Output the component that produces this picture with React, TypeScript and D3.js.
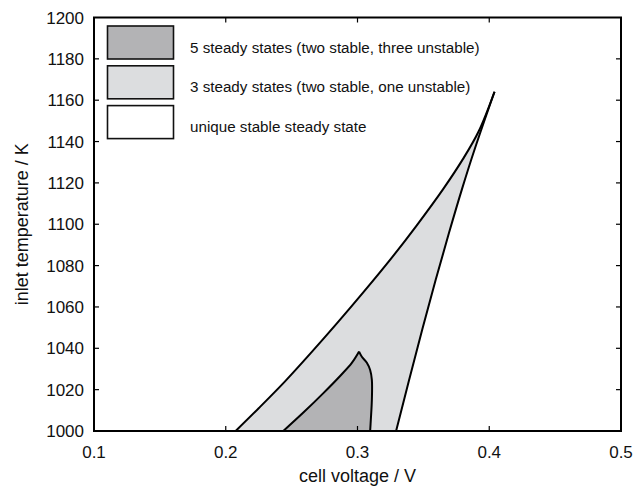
import React from "react";
import * as d3 from "d3";

// Outer boundary of the 3-steady-state region (cell voltage V, inlet temperature K)
const outerLeftV = [0.2075, 0.225, 0.245, 0.265, 0.285, 0.305, 0.325, 0.345, 0.365, 0.38, 0.392, 0.404];
const outerLeftT = [1000, 1011, 1024, 1038, 1052.5, 1067.5, 1083, 1099.5, 1117, 1131.5, 1145, 1164.1];
const outerRightV = [0.404, 0.3893, 0.3793, 0.3693, 0.3593, 0.3493, 0.3393, 0.3293];
const outerRightT = [1164.1, 1137, 1117, 1095.5, 1073, 1049.5, 1025, 1000];

// Boundary of the 5-steady-state region
const innerLeftV = [0.2437, 0.2589, 0.2741, 0.2868, 0.2957, 0.3012];
const innerLeftT = [1000, 1008.9, 1018.3, 1026.6, 1032.9, 1038.4];
const innerRightV = [0.3012, 0.3033, 0.3071, 0.3096, 0.3109, 0.3109, 0.3101, 0.3096];
const innerRightT = [1038.4, 1035.9, 1033.0, 1029.5, 1024.7, 1015.0, 1005.3, 1000];

const xTicks = [0.1, 0.2, 0.3, 0.4, 0.5];
const yTicks = [1000, 1020, 1040, 1060, 1080, 1100, 1120, 1140, 1160, 1180, 1200];

const legendLabels = [
  "5 steady states (two stable, three unstable)",
  "3 steady states (two stable, one unstable)",
  "unique stable steady state",
];
const legendFills = ["#b3b3b5", "#dcdddf", "#ffffff"];

const FONT = "'Liberation Sans', Arial, Helvetica, sans-serif";

const W = 644;
const H = 488;
const L = 94, R = 621, T = 17.5, B = 431;

export default function App() {
  const x = d3.scaleLinear().domain([0.1, 0.5]).range([L, R]);
  const y = d3.scaleLinear().domain([1000, 1200]).range([B, T]);

  const zip = (vs: number[], ts: number[]) => vs.map((v, i) => [v, ts[i]] as [number, number]);
  const line = d3
    .line<[number, number]>()
    .x((d) => x(d[0]))
    .y((d) => y(d[1]))
    .curve(d3.curveCatmullRom.alpha(0.5));

  const oL = zip(outerLeftV, outerLeftT);
  const oR = zip(outerRightV, outerRightT);
  const iL = zip(innerLeftV, innerLeftT);
  const iR = zip(innerRightV, innerRightT);

  const oLPath = line(oL) || "";
  const oRPath = line(oR) || "";
  const iLPath = line(iL) || "";
  const iRPath = line(iR) || "";

  const outerFill = oLPath + oRPath.replace(/^M/, "L") + "Z";
  const innerFill = iLPath + iRPath.replace(/^M/, "L") + "Z";

  const tickLen = 5;

  return (
    <svg
      width={W}
      height={H}
      style={{ position: "absolute", left: 0, top: 0, background: "#fff" }}
      fontFamily={FONT}
    >
      <rect x={0} y={0} width={W} height={H} fill="#fff" />
      <path d={outerFill} fill="#dcdddf" stroke="none" />
      <path d={innerFill} fill="#b3b3b5" stroke="none" />
      {[oLPath, oRPath, iLPath, iRPath].map((d, i) => (
        <path key={i} d={d} fill="none" stroke="#000" strokeWidth={2} strokeLinejoin="round" />
      ))}

      {/* ticks */}
      {xTicks.slice(1, -1).map((t) => (
        <g key={"xt" + t}>
          <line x1={x(t)} x2={x(t)} y1={B} y2={B - tickLen} stroke="#000" strokeWidth={1.2} />
          <line x1={x(t)} x2={x(t)} y1={T} y2={T + tickLen} stroke="#000" strokeWidth={1.2} />
        </g>
      ))}
      {yTicks.slice(1, -1).map((t) => (
        <g key={"yt" + t}>
          <line x1={L} x2={L + tickLen} y1={y(t)} y2={y(t)} stroke="#000" strokeWidth={1.2} />
          <line x1={R} x2={R - tickLen} y1={y(t)} y2={y(t)} stroke="#000" strokeWidth={1.2} />
        </g>
      ))}
      <rect x={L} y={T} width={R - L} height={B - T} fill="none" stroke="#000" strokeWidth={2} />

      {/* tick labels */}
      {xTicks.map((t) => (
        <text key={"xl" + t} x={x(t)} y={458} textAnchor="middle" fontSize={17} fill="#111">
          {d3.format(".1f")(t)}
        </text>
      ))}
      {yTicks.map((t) => (
        <text key={"yl" + t} x={84} y={y(t) + 6} textAnchor="end" fontSize={17} fill="#111">
          {t}
        </text>
      ))}

      {/* axis titles */}
      <text x={(L + R) / 2} y={482} textAnchor="middle" fontSize={18} fill="#111">
        cell voltage / V
      </text>
      <text
        transform={`translate(28, ${(T + B) / 2}) rotate(-90)`}
        textAnchor="middle"
        fontSize={18}
        fill="#111"
      >
        inlet temperature / K
      </text>

      {/* legend */}
      {legendLabels.map((lab, i) => (
        <g key={lab}>
          <rect
            x={107.5}
            y={26 + i * 39.8}
            width={66}
            height={33}
            fill={legendFills[i]}
            stroke="#111"
            strokeWidth={1.6}
          />
          <text x={190} y={52.5 + i * 39.8} fontSize={15.2} fill="#111">
            {lab}
          </text>
        </g>
      ))}
    </svg>
  );
}
